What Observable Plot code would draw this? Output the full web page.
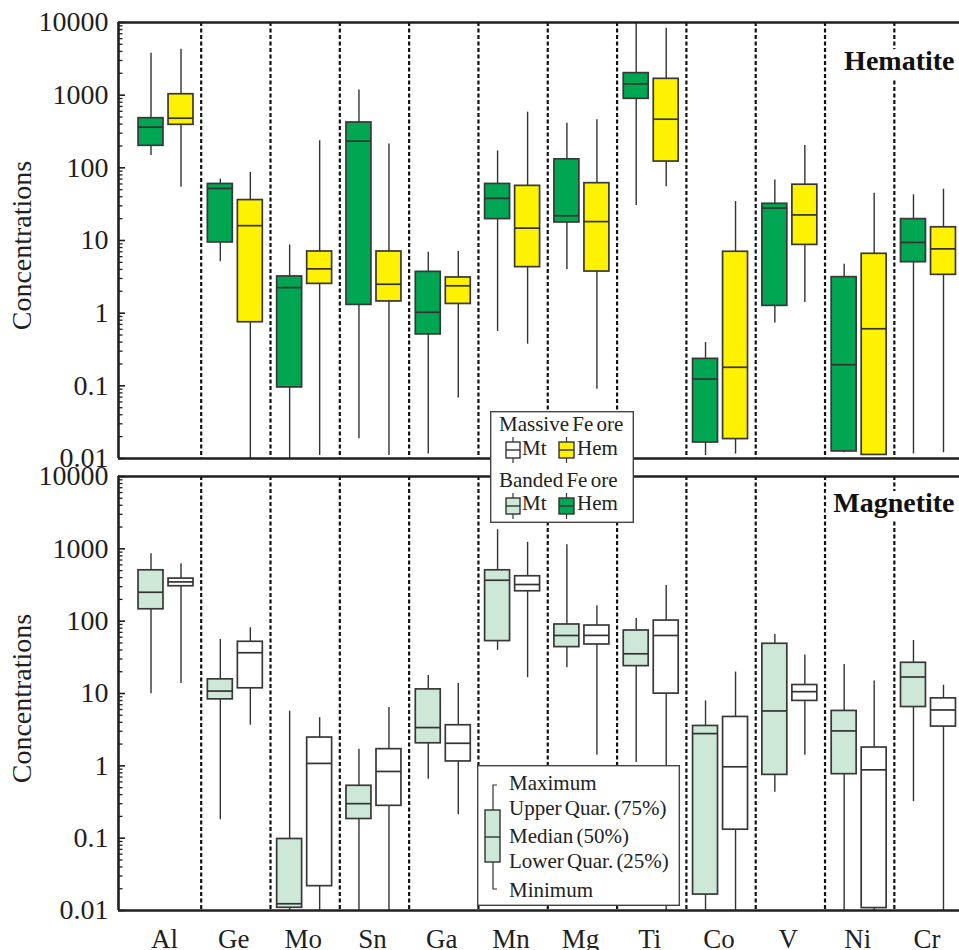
<!DOCTYPE html>
<html><head><meta charset="utf-8">
<script src="https://cdn.jsdelivr.net/npm/d3@7"></script>
<script src="https://cdn.jsdelivr.net/npm/@observablehq/plot@0.6"></script>
<style>
body{margin:0;background:#fff;}
#wrap{position:relative;width:959px;height:950px;overflow:hidden;font-family:"Liberation Serif","Times New Roman",serif;}
#wrap svg.panel{position:absolute;left:0;}
.legend{position:absolute;background:#fff;}
.legend text{font-family:"Liberation Serif","Times New Roman",serif;fill:#222;word-spacing:-2px;}
</style></head><body><div id="wrap"></div>
<script>
// Categories
const elements = ["Al","Ge","Mo","Sn","Ga","Mn","Mg","Ti","Co","V","Ni","Cr"];
// Each row: [min, lower quartile, median, upper quartile, max]
// Hematite panel
const hemBanded = [
  [148, 201, 363, 482, 3780],
  [5.1, 9.4, 52, 60, 70],
  [0.01, 0.095, 2.25, 3.2, 8.7],
  [0.0187, 1.3, 233, 421, 1180],
  [0.0115, 0.51, 1.03, 3.7, 6.9],
  [0.56, 19.7, 38, 60, 171],
  [4.0, 17.7, 21.9, 131, 412],
  [30.3, 891, 1432, 2010, 10000],
  [0.011, 0.0166, 0.124, 0.235, 0.395],
  [0.73, 1.26, 28, 32, 68],
  [0.012, 0.0125, 0.195, 3.13, 4.7],
  [0.0115, 5.03, 9.4, 19.7, 42.5]
];
const hemMassive = [
  [54, 391, 482, 1030, 4300],
  [0.01, 0.75, 16, 36, 86],
  [0.011, 2.53, 4.07, 7.06, 235],
  [0.011, 1.45, 2.5, 7.06, 212],
  [0.068, 1.34, 2.38, 3.1, 7.06],
  [0.374, 4.3, 14.8, 56.5, 583],
  [0.09, 3.74, 18.2, 61.5, 458],
  [55, 122, 467, 1678, 8360],
  [0.0115, 0.0185, 0.18, 7.0, 34.4],
  [1.4, 8.7, 22.5, 58.6, 203],
  [0.011, 0.0112, 0.61, 6.56, 44.8],
  [0.012, 3.37, 7.67, 15.2, 50.8]
];
// Magnetite panel
const mtBanded = [
  [9.95, 146, 251, 505, 857],
  [0.18, 8.3, 10.8, 15.7, 55.8],
  [0.01, 0.0109, 0.0124, 0.0974, 5.7],
  [0.01, 0.184, 0.30, 0.53, 1.7],
  [0.655, 2.05, 3.38, 11.4, 17.8],
  [39.4, 53, 368, 505, 1837],
  [22.7, 43.8, 63.4, 90, 1140],
  [1.11, 23.9, 35.4, 74.3, 109],
  [0.01, 0.0166, 2.79, 3.56, 7.9],
  [0.43, 0.75, 5.74, 48.7, 65.5],
  [0.01, 0.767, 3.04, 5.74, 25.2],
  [0.32, 6.5, 16.9, 26.6, 54]
];
const mtMassive = [
  [13.7, 304, 349, 388, 624],
  [3.64, 11.8, 36.6, 51.9, 81],
  [0.01, 0.0217, 1.08, 2.46, 4.64],
  [0.01, 0.28, 0.836, 1.7, 6.38],
  [0.211, 1.15, 2.05, 3.64, 13.7],
  [16.5, 259, 321, 418, 1230],
  [1.4, 47.6, 63.6, 87, 164],
  [0.01, 9.96, 63.4, 102, 310],
  [0.01, 0.131, 0.97, 4.74, 19.8],
  [1.4, 7.9, 10.6, 13.1, 34],
  [0.01, 0.0108, 0.88, 1.79, 14.9],
  [0.01, 3.49, 5.92, 8.57, 13]
];
const majorTicks = [0.01, 0.1, 1, 10, 100, 1000, 10000];
const majorLabels = ["0.01", "0.1", "1", "10", "100", "1000", "10000"];

// styling constants
const GREEN = "#00a651", YELLOW = "#fff200", LIGHT = "#cde8d6", WHITE = "#ffffff";
const INK = "#1f1f1f";
const xDomain = [-0.693, 11.44];
const pairOffset = [-0.224, 0.209];
const halfW = 0.18;
const minorTicks = [];
for (let e = -2; e < 4; e++) for (let m = 2; m <= 9; m++) minorTicks.push(+(m * Math.pow(10, e)).toPrecision(3));
const dividers = elements.slice(1).map((_, i) => i + 0.5);

function rows(seriesList) {
  return seriesList.flatMap(s => s.values.map((v, i) => ({
    name: elements[i], x: i + pairOffset[s.pos],
    min: v[0], q1: v[1], med: v[2], q3: v[3], max: v[4], fill: s.fill
  })));
}

function panel({series, height, marginTop, marginBottom, title, titleDy, xAxis}) {
  const data = rows(series);
  const marks = [
    Plot.ruleX(dividers, {stroke: "#111", strokeWidth: 2.2, strokeDasharray: "4,2.5"}),
    Plot.text([title], {frameAnchor: "top-right", dx: -5, dy: titleDy, fontSize: 28, fontWeight: "bold",
      fill: "#111", stroke: "white", strokeWidth: 16, paintOrder: "stroke"}),
    Plot.ruleX(data, {x: "x", y1: "min", y2: "max", stroke: "#333", strokeWidth: 1.4}),
    Plot.rect(data, {x1: d => d.x - halfW, x2: d => d.x + halfW, y1: "q1", y2: "q3", fill: "fill", stroke: "#383838", strokeWidth: 1.7}),
    Plot.ruleY(data, {y: "med", x1: d => d.x - halfW, x2: d => d.x + halfW, stroke: "#333", strokeWidth: 1.7}),
    Plot.axisY(majorTicks, {tickSize: -7, tickPadding: 17, tickFormat: d => majorLabels[majorTicks.indexOf(d)], fontSize: 28, strokeWidth: 1.6, label: null}),
    Plot.axisY(minorTicks, {tickSize: -4.5, tickFormat: () => "", strokeWidth: 1.3, label: null}),
    Plot.text(["Concentrations"], {frameAnchor: "left", rotate: -90, dx: -96, dy: 5, textAnchor: "middle", lineAnchor: "middle", fontSize: 28, fill: INK}),
    Plot.ruleY([majorTicks[0], majorTicks[majorTicks.length - 1]], {stroke: INK, strokeWidth: 2.6}),
    Plot.ruleX([xDomain[0]], {stroke: INK, strokeWidth: 2.6})
  ];
  if (xAxis) marks.push(Plot.axisX(d3.range(elements.length), {tickFormat: i => elements[i], tickSize: 0, tickPadding: 18, fontSize: 27, dx: -2, label: null}));
  const svg = Plot.plot({
    width: 959, height, marginLeft: 118, marginRight: 0, marginTop, marginBottom,
    x: {type: "linear", domain: xDomain, axis: null},
    y: {type: "log", domain: [0.01, 10000], axis: null},
    color: {type: "identity"},
    style: {background: "transparent", overflow: "visible", fontFamily: "'Liberation Serif', 'Times New Roman', serif", color: INK},
    marks
  });
  svg.classList.add("panel");
  return svg;
}

const wrap = document.getElementById("wrap");
const topPanel = panel({series: [{values: hemBanded, fill: GREEN, pos: 0}, {values: hemMassive, fill: YELLOW, pos: 1}],
  height: 470, marginTop: 22, marginBottom: 12, title: "Hematite", titleDy: 27.5, xAxis: false});
topPanel.style.top = "0px";
const bottomPanel = panel({series: [{values: mtBanded, fill: LIGHT, pos: 0}, {values: mtMassive, fill: WHITE, pos: 1}],
  height: 488, marginTop: 14, marginBottom: 40, title: "Magnetite", titleDy: 16, xAxis: true});
bottomPanel.style.top = "462px";
wrap.appendChild(topPanel);
wrap.appendChild(bottomPanel);

// Legends
function icon(x, y, w, h, fill) {
  const mid = y + h / 2;
  return `<line x1="${x + w / 2}" x2="${x + w / 2}" y1="${y - 5}" y2="${y + h + 5}" stroke="#333" stroke-width="1.2"/>` +
    `<rect x="${x}" y="${y}" width="${w}" height="${h}" fill="${fill}" stroke="#333" stroke-width="1.4"/>` +
    `<line x1="${x}" x2="${x + w}" y1="${mid}" y2="${mid}" stroke="#333" stroke-width="1.4"/>`;
}
const leg1 = document.createElement("div");
leg1.className = "legend";
leg1.style.cssText = "left:490px;top:411px;width:144px;height:112px;";
leg1.innerHTML = `<svg width="144" height="112">
<rect x="0.7" y="0.7" width="142.6" height="110.6" fill="#fff" stroke="#444" stroke-width="1.4"/>
<text x="9" y="20" font-size="21">Massive Fe ore</text>
${icon(16, 31, 14, 16, WHITE)}<text x="32" y="44" font-size="21">Mt</text>
${icon(69, 31, 15, 16, YELLOW)}<text x="87" y="44" font-size="21">Hem</text>
<text x="9" y="76" font-size="21">Banded Fe ore</text>
${icon(16, 87, 14, 16, LIGHT)}<text x="32" y="99" font-size="21">Mt</text>
${icon(69, 87, 15, 16, GREEN)}<text x="87" y="99" font-size="21">Hem</text>
</svg>`;
wrap.appendChild(leg1);

const leg2 = document.createElement("div");
leg2.className = "legend";
leg2.style.cssText = "left:477px;top:765px;width:203px;height:141px;";
leg2.innerHTML = `<svg width="203" height="141">
<rect x="0.7" y="0.7" width="201.6" height="139.6" fill="#fff" stroke="#444" stroke-width="1.4"/>
<path d="M20,20H16V124H20" fill="none" stroke="#333" stroke-width="1.2"/>
<rect x="8" y="45" width="15" height="52" fill="${LIGHT}" stroke="#333" stroke-width="1.4"/>
<line x1="8" x2="23" y1="72" y2="72" stroke="#333" stroke-width="1.4"/>
<text x="32" y="25" font-size="21">Maximum</text>
<text x="32" y="50" font-size="21">Upper Quar. (75%)</text>
<text x="32" y="78" font-size="21">Median (50%)</text>
<text x="32" y="103" font-size="21">Lower Quar. (25%)</text>
<text x="32" y="132" font-size="21">Minimum</text>
</svg>`;
wrap.appendChild(leg2);
</script>
</body></html>
